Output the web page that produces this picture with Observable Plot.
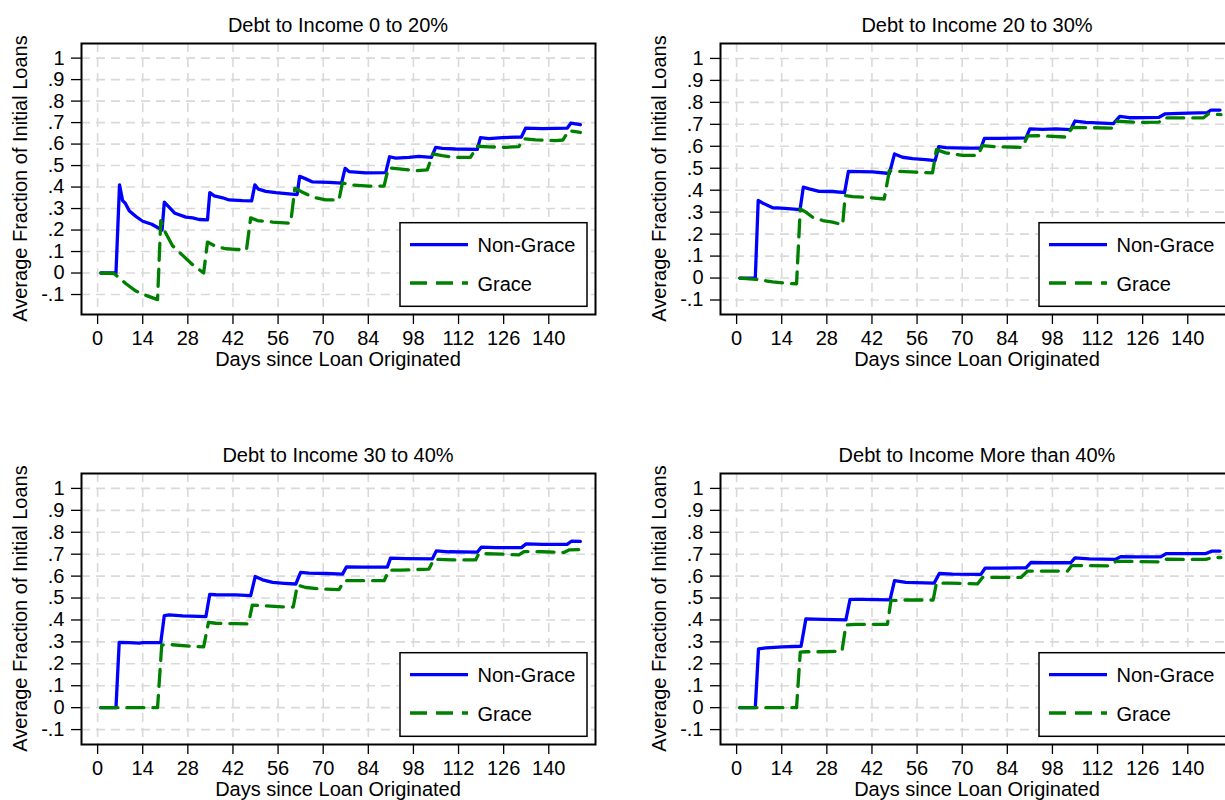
<!DOCTYPE html>
<html>
<head>
<meta charset="utf-8">
<script src="https://cdn.jsdelivr.net/npm/d3@7"></script>
<script src="https://cdn.jsdelivr.net/npm/@observablehq/plot@0.6"></script>
<style>
  html, body { margin: 0; padding: 0; background: white; overflow: hidden; }
  #wrap { position: relative; width: 1225px; height: 800px; overflow: hidden; background: white; }
  #wrap svg { position: absolute; max-width: none !important; }
</style>
</head>
<body>
<div id="wrap"></div>
<script>
// ---- data: [day, average fraction of initial loans] ----
const titles = ["Debt to Income 0 to 20%", "Debt to Income 20 to 30%", "Debt to Income 30 to 40%", "Debt to Income More than 40%"];
const seriesNames = ["Non-Grace", "Grace"];
const xLabel = "Days since Loan Originated";
const yLabel = "Average Fraction of Initial Loans";
const xTicks = [0, 14, 28, 42, 56, 70, 84, 98, 112, 126, 140];
const yTicks = [-0.1, 0, 0.1, 0.2, 0.3, 0.4, 0.5, 0.6, 0.7, 0.8, 0.9, 1];

const nonGrace1 = [[1,0],[5.7,0],[6.8,0.41],[7.75,0.337],[8.6,0.325],[9.8,0.29],[11.9,0.263],[14,0.241],[16.8,0.227],[20,0.2],[20.7,0.33],[24,0.278],[27.4,0.26],[29.5,0.257],[31.5,0.249],[34.1,0.247],[34.8,0.374],[36.2,0.359],[38.8,0.35],[40.8,0.34],[45,0.337],[47.8,0.336],[48.8,0.41],[49.9,0.39],[52.2,0.38],[55.3,0.374],[59.4,0.368],[61.9,0.365],[62.7,0.45],[64.6,0.438],[66.7,0.424],[71.8,0.422],[75.7,0.418],[76.8,0.487],[78,0.472],[83.2,0.466],[89.4,0.467],[90.6,0.541],[92.5,0.535],[96.6,0.538],[99.7,0.543],[103.6,0.538],[104.9,0.585],[107,0.58],[111,0.577],[117.8,0.575],[118.8,0.63],[121.4,0.625],[125.6,0.63],[131.5,0.633],[132.8,0.674],[138,0.672],[145.7,0.674],[146.9,0.698],[149.8,0.69]];
const grace1 = [[1,0],[5.2,-0.003],[8.8,-0.05],[11.9,-0.084],[15,-0.104],[18.6,-0.124],[19.6,0.244],[21,0.19],[23.2,0.128],[26.4,0.082],[29.4,0.04],[32.9,0.0],[34.1,0.144],[36.7,0.124],[39.8,0.113],[42.9,0.11],[46.2,0.108],[47.5,0.257],[49.6,0.244],[54.3,0.237],[59.9,0.232],[61.2,0.394],[63.6,0.376],[66.7,0.353],[70.8,0.34],[74.9,0.34],[75.95,0.419],[79,0.41],[84.2,0.404],[88.9,0.405],[90.2,0.489],[93.5,0.485],[98.7,0.476],[102.3,0.48],[104,0.554],[106.9,0.546],[111,0.538],[115.7,0.538],[117.8,0.59],[121.4,0.587],[126.6,0.585],[130.7,0.588],[132.3,0.625],[135.9,0.62],[142.1,0.616],[144.4,0.619],[146.2,0.662],[149.8,0.654]];

const nonGrace2 = [[1,0],[5.8,0],[6.7,0.353],[8,0.342],[11.2,0.32],[13.8,0.318],[16.9,0.315],[19.7,0.312],[20.7,0.414],[22.5,0.406],[25.6,0.395],[29.8,0.394],[33.5,0.389],[34.7,0.486],[38.1,0.485],[42.2,0.483],[47.4,0.476],[49,0.565],[51.5,0.55],[54.6,0.544],[58.7,0.539],[61.6,0.535],[62.7,0.598],[65,0.594],[71.1,0.592],[75.8,0.592],[76.9,0.636],[81.5,0.636],[89.8,0.638],[91,0.679],[94.9,0.677],[99.1,0.679],[103.7,0.676],[105,0.715],[108.4,0.709],[116.9,0.703],[118.9,0.736],[121.8,0.73],[131.1,0.732],[133,0.748],[137.3,0.75],[146.1,0.753],[147.2,0.765],[150,0.765]];
const grace2 = [[1,0],[6,-0.006],[11.2,-0.017],[15.3,-0.024],[18.6,-0.026],[19.75,0.315],[21.5,0.3],[23.6,0.277],[26.7,0.262],[29.8,0.255],[32.9,0.242],[33.7,0.376],[36,0.371],[40.1,0.368],[45.8,0.36],[47.4,0.489],[50.5,0.486],[55.6,0.482],[60.8,0.479],[62,0.585],[64.9,0.57],[70.1,0.559],[74.8,0.558],[76.3,0.603],[80.5,0.598],[88.7,0.595],[90.3,0.647],[93.9,0.648],[102.2,0.642],[104.2,0.686],[108.4,0.685],[116.7,0.683],[117.9,0.714],[123.9,0.709],[131.1,0.71],[132.4,0.729],[137.3,0.729],[144.8,0.729],[146.4,0.747],[150.3,0.744]];

const nonGrace3 = [[1,0],[5.7,0],[6.7,0.298],[9.8,0.297],[12.9,0.294],[14,0.297],[19.6,0.297],[20.7,0.42],[22.2,0.423],[26.4,0.419],[33.6,0.415],[34.8,0.517],[36.7,0.515],[42.9,0.514],[47.5,0.511],[48.9,0.598],[51.2,0.583],[54.3,0.571],[57.9,0.567],[61.5,0.564],[63,0.617],[65.6,0.614],[70.8,0.612],[76,0.609],[77.2,0.642],[82.2,0.641],[89.9,0.641],[90.9,0.682],[95.6,0.68],[103.9,0.679],[105.1,0.715],[109,0.711],[117.8,0.709],[119.1,0.732],[123.5,0.73],[131.5,0.73],[133,0.747],[138,0.745],[145.7,0.745],[147,0.759],[149.8,0.758]];
const grace3 = [[1,0],[18.6,0],[19.9,0.286],[22.2,0.288],[27.4,0.282],[32.9,0.277],[34.4,0.389],[36.7,0.385],[42.9,0.383],[46.8,0.382],[48,0.468],[51.2,0.465],[57.4,0.46],[60.7,0.459],[62,0.559],[64.6,0.548],[69.8,0.541],[74.9,0.538],[76.5,0.579],[81.1,0.579],[88.9,0.579],[90.4,0.627],[94,0.627],[102.8,0.632],[104.4,0.677],[110.1,0.674],[117.3,0.674],[118.3,0.703],[125.6,0.7],[130.7,0.697],[132.3,0.712],[138,0.711],[144.7,0.708],[146.4,0.72],[149.3,0.721]];

const nonGrace4 = [[1,0],[5.8,0],[6.8,0.268],[9.1,0.273],[14.3,0.277],[20,0.28],[21.5,0.405],[26.7,0.403],[33.9,0.4],[35.2,0.494],[39.1,0.494],[47.6,0.492],[49,0.579],[52.5,0.571],[61.3,0.568],[62.9,0.612],[67,0.609],[75.8,0.608],[77.1,0.636],[81.5,0.636],[89.8,0.638],[91.3,0.662],[96,0.661],[103.7,0.661],[105,0.683],[109.4,0.679],[117.5,0.676],[119.2,0.689],[123.9,0.688],[131.6,0.688],[133.4,0.703],[138.4,0.703],[145.6,0.703],[147.5,0.714],[150,0.714]];
const grace4 = [[1,0],[18.6,0],[19.75,0.253],[21.5,0.255],[26.7,0.255],[32.7,0.258],[33.9,0.377],[37,0.38],[46.8,0.38],[47.9,0.488],[51.5,0.491],[61,0.491],[62,0.568],[66,0.568],[74.8,0.565],[76.3,0.594],[81.5,0.594],[88.2,0.594],[90.3,0.623],[96,0.623],[102.7,0.623],[104,0.648],[108.4,0.648],[116.1,0.647],[117.7,0.667],[122.9,0.667],[131.6,0.665],[133,0.677],[139.4,0.676],[145.6,0.676],[147.7,0.685],[150.3,0.685]];

const panels = [
  {title: titles[0], ng: nonGrace1, g: grace1, ydom: [-0.193, 1.068], left: 0,   top: 0},
  {title: titles[1], ng: nonGrace2, g: grace2, ydom: [-0.166, 1.068], left: 639, top: 0},
  {title: titles[2], ng: nonGrace3, g: grace3, ydom: [-0.168, 1.068], left: 0,   top: 430},
  {title: titles[3], ng: nonGrace4, g: grace4, ydom: [-0.168, 1.068], left: 639, top: 430}
];

const FONT = "'Liberation Sans', Arial, Helvetica, sans-serif";
const FS = "20px";
const blue = "#0000ff", green = "#008000";
const W = 639, H = 430, ML = 81, MR = 44, MT = 43, MB = 116;
const fmtY = d => d === 0 ? "0" : d === 1 ? "1" : d.toFixed(1).replace("0.", ".");
const grid = {stroke: "#d9d9d9", strokeOpacity: 1, strokeWidth: 1.6, strokeDasharray: "9,6"};

const wrap = document.getElementById("wrap");
for (const p of panels) {
  const chart = Plot.plot({
    width: W, height: H,
    marginLeft: ML, marginRight: MR, marginTop: MT, marginBottom: MB,
    style: {fontFamily: FONT, fontSize: FS, color: "black", background: "white", overflow: "visible"},
    x: {domain: [-5, 154.5]},
    y: {domain: p.ydom},
    marks: [
      Plot.gridX(xTicks, grid),
      Plot.gridY(yTicks, grid),
      Plot.line(p.ng, {x: d => d[0], y: d => d[1], stroke: blue, strokeWidth: 3.3}),
      Plot.line(p.g, {x: d => d[0], y: d => d[1], stroke: green, strokeWidth: 3.3, strokeDasharray: "17,9"}),
      Plot.frame({stroke: "black", strokeWidth: 2}),
      Plot.axisX(xTicks, {tickSize: 10, tickPadding: 6, label: null, tickFormat: d => String(d), strokeWidth: 1.3, fontSize: FS}),
      Plot.axisY(yTicks, {tickSize: 10, tickPadding: 7, label: null, tickFormat: fmtY, strokeWidth: 1.3, fontSize: FS})
    ]
  });
  chart.style.left = p.left + "px";
  chart.style.top = p.top + "px";
  const svg = d3.select(chart);
  const cx = ML + (W - ML - MR) / 2;
  const txt = (x, y, s, anchor = "middle") => svg.append("text")
      .attr("x", x).attr("y", y).attr("text-anchor", anchor)
      .attr("font-family", FONT).attr("font-size", FS).attr("fill", "black").text(s);
  txt(cx, 32.3, p.title);
  txt(cx, 366, xLabel);
  svg.append("text")
    .attr("transform", `translate(27.3,${MT + (H - MT - MB) / 2}) rotate(-90)`)
    .attr("text-anchor", "middle").attr("font-family", FONT).attr("font-size", FS)
    .attr("fill", "black").text(yLabel);
  // legend
  const lg = svg.append("g");
  lg.append("rect").attr("x", 400).attr("y", 222.7).attr("width", 187).attr("height", 83.6)
    .attr("fill", "white").attr("stroke", "black").attr("stroke-width", 1.5);
  lg.append("line").attr("x1", 410).attr("x2", 468).attr("y1", 244.7).attr("y2", 244.7)
    .attr("stroke", blue).attr("stroke-width", 3.3);
  lg.append("line").attr("x1", 410).attr("x2", 468).attr("y1", 283).attr("y2", 283)
    .attr("stroke", green).attr("stroke-width", 3.3).attr("stroke-dasharray", "17,9");
  txt(477.5, 252, seriesNames[0], "start");
  txt(477.5, 290.7, seriesNames[1], "start");
  wrap.appendChild(chart);
}
</script>
</body>
</html>
